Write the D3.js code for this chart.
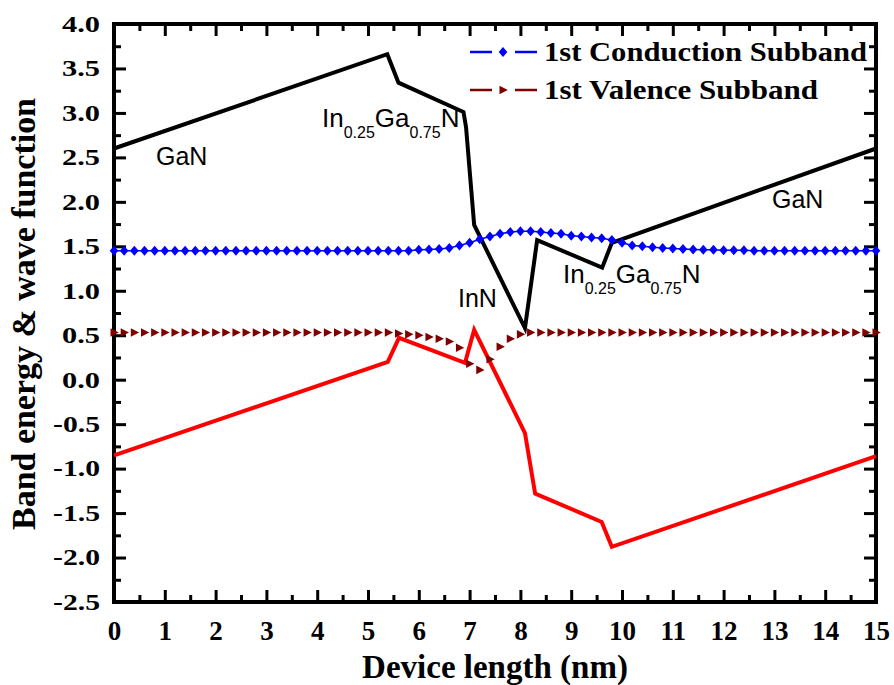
<!DOCTYPE html>
<html>
<head>
<meta charset="utf-8">
<script src="https://cdn.jsdelivr.net/npm/d3@7"></script>
<style>
  body { margin: 0; background: #fff; }
  svg { display: block; }
</style>
</head>
<body>
<div id="chart"></div>
<script>
// conduction band edge (black) and valence band edge (red)
var cbX = [0, 5.38, 5.6, 6.88, 6.93, 7.09, 8.09, 8.33, 9.61, 9.8, 15];
var cbY = [2.6, 3.66, 3.34, 3.01, 2.84, 1.74, 0.58, 1.57, 1.26, 1.54, 2.6];
var vbX = [0, 5.39, 5.61, 6.91, 7.09, 8.09, 8.29, 9.6, 9.8, 15];
var vbY = [-0.85, 0.2, 0.47, 0.19, 0.56, -0.6, -1.28, -1.6, -1.88, -0.86];

// subband wave functions, sampled every 0.2 nm from 0 to 15
var subX = d3.range(0, 76).map(function(i){ return i * 0.2; });
var condSub = [
  1.45, 1.45, 1.45, 1.45, 1.45, 1.45, 1.45, 1.45, 1.45, 1.45,
  1.45, 1.45, 1.45, 1.45, 1.45, 1.45, 1.45, 1.45, 1.45, 1.45,
  1.45, 1.45, 1.45, 1.45, 1.45, 1.45, 1.45, 1.45, 1.45, 1.45,
  1.46, 1.465, 1.47, 1.48, 1.51, 1.54, 1.58, 1.61, 1.64, 1.66,
  1.67, 1.67, 1.66, 1.65, 1.64, 1.62, 1.61, 1.60, 1.59, 1.57,
  1.54, 1.51, 1.50, 1.49, 1.48, 1.475, 1.47, 1.465, 1.46, 1.46,
  1.455, 1.455, 1.455, 1.45, 1.45, 1.45, 1.45, 1.45, 1.45, 1.45,
  1.45, 1.45, 1.45, 1.45, 1.45, 1.45
];
var valSub = [
  0.53, 0.53, 0.53, 0.53, 0.53, 0.53, 0.53, 0.53, 0.53, 0.53,
  0.53, 0.53, 0.53, 0.53, 0.53, 0.53, 0.53, 0.53, 0.53, 0.53,
  0.53, 0.53, 0.53, 0.53, 0.53, 0.53, 0.53, 0.53, 0.52, 0.51,
  0.50, 0.48, 0.46, 0.43, 0.36, 0.18, 0.11, 0.23, 0.37, 0.46,
  0.51, 0.53, 0.53, 0.53, 0.53, 0.53, 0.53, 0.53, 0.53, 0.53,
  0.53, 0.53, 0.53, 0.53, 0.53, 0.53, 0.53, 0.53, 0.53, 0.53,
  0.53, 0.53, 0.53, 0.53, 0.53, 0.53, 0.53, 0.53, 0.53, 0.53,
  0.53, 0.53, 0.53, 0.53, 0.53, 0.53
];

var xTicks = d3.range(0, 16);
var xMinor = d3.range(0.5, 15, 1);
var yTicks = [-2.5, -2, -1.5, -1, -0.5, 0, 0.5, 1, 1.5, 2, 2.5, 3, 3.5, 4];
var yMinor = [-2.25, -1.75, -1.25, -0.75, -0.25, 0.25, 0.75, 1.25, 1.75, 2.25, 2.75, 3.25, 3.75];
var legendNames = ["1st Conduction Subband", "1st Valence Subband"];

var W = 894, H = 685;
// plot box (note: "top" is a reserved window property, so use pL/pR/pT/pB)
var pL = 114, pR = 876, pT = 24, pB = 602;

var serif = "'Liberation Serif', 'Times New Roman', serif";
var sans = "'Liberation Sans', Arial, sans-serif";

var svg = d3.select('#chart').append('svg')
    .attr('width', W).attr('height', H);
svg.append('rect').attr('width', W).attr('height', H).attr('fill', '#fff');

var x = d3.scaleLinear().domain([0, 15]).range([pL, pR]);
var y = d3.scaleLinear().domain([-2.5, 4]).range([pB, pT]);

// axes with inward ticks on all four sides
function styleAxis(g, width){
    g.select('.domain').remove();
    g.selectAll('.tick line').attr('stroke', '#000').attr('stroke-width', width);
}

var gx = svg.append('g').attr('transform', 'translate(0,' + pB + ')')
    .call(d3.axisBottom(x).tickValues(xTicks).tickSize(-12).tickPadding(19)
        .tickFormat(function(d){ return d; }));
styleAxis(gx, 3);
gx.selectAll('text').attr('font-family', serif).attr('font-weight', 'bold')
    .attr('font-size', 27).attr('fill', '#000');

var gxm = svg.append('g').attr('transform', 'translate(0,' + pB + ')')
    .call(d3.axisBottom(x).tickValues(xMinor).tickSize(-7).tickFormat(''));
styleAxis(gxm, 3);

var gxt = svg.append('g').attr('transform', 'translate(0,' + pT + ')')
    .call(d3.axisTop(x).tickValues(xTicks).tickSize(-12).tickFormat(''));
styleAxis(gxt, 3);
var gxtm = svg.append('g').attr('transform', 'translate(0,' + pT + ')')
    .call(d3.axisTop(x).tickValues(xMinor).tickSize(-7).tickFormat(''));
styleAxis(gxtm, 3);

var gy = svg.append('g').attr('transform', 'translate(' + pL + ',0)')
    .call(d3.axisLeft(y).tickValues(yTicks).tickSize(-12).tickPadding(14)
        .tickFormat(function(d){ return d.toFixed(1); }));
styleAxis(gy, 3);
gy.selectAll('text').attr('font-family', serif).attr('font-weight', 'bold')
    .attr('font-size', 23).attr('fill', '#000')
    .attr('lengthAdjust', 'spacingAndGlyphs')
    .attr('textLength', function(d){ return d < 0 ? 47 : 38; });

var gym = svg.append('g').attr('transform', 'translate(' + pL + ',0)')
    .call(d3.axisLeft(y).tickValues(yMinor).tickSize(-7).tickFormat(''));
styleAxis(gym, 3);

var gyr = svg.append('g').attr('transform', 'translate(' + pR + ',0)')
    .call(d3.axisRight(y).tickValues(yTicks).tickSize(-12).tickFormat(''));
styleAxis(gyr, 3);
var gyrm = svg.append('g').attr('transform', 'translate(' + pR + ',0)')
    .call(d3.axisRight(y).tickValues(yMinor).tickSize(-7).tickFormat(''));
styleAxis(gyrm, 3);

// frame
svg.append('rect')
    .attr('x', pL).attr('y', pT)
    .attr('width', pR - pL).attr('height', pB - pT)
    .attr('fill', 'none').attr('stroke', '#000').attr('stroke-width', 4);

// band edges
var line = d3.line()
    .x(function(d){ return x(d[0]); })
    .y(function(d){ return y(d[1]); });

svg.append('path')
    .datum(cbX.map(function(v, i){ return [v, cbY[i]]; }))
    .attr('d', line)
    .attr('fill', 'none').attr('stroke', '#000').attr('stroke-width', 4)
    .attr('stroke-linejoin', 'miter');

svg.append('path')
    .datum(vbX.map(function(v, i){ return [v, vbY[i]]; }))
    .attr('d', line)
    .attr('fill', 'none').attr('stroke', '#ff0000').attr('stroke-width', 4)
    .attr('stroke-linejoin', 'miter');

// subbands
var diamond = 'M0,-5L4.3,0L0,5L-4.3,0Z';
var triangle = 'M-3.5,-4.3L4.8,0L-3.5,4.3Z';

var condPts = subX.map(function(v, i){ return [v, condSub[i]]; });
var valPts = subX.map(function(v, i){ return [v, valSub[i]]; });

svg.append('path').datum(condPts).attr('d', line)
    .attr('fill', 'none').attr('stroke', '#0000ff').attr('stroke-width', 1.5);
svg.append('g').selectAll('path')
    .data(condPts).enter()
    .append('path')
    .attr('d', diamond)
    .attr('transform', function(d){ return 'translate(' + x(d[0]) + ',' + y(d[1]) + ')'; })
    .attr('fill', '#0000ff');

svg.append('g').selectAll('path')
    .data(valPts).enter()
    .append('path')
    .attr('d', triangle)
    .attr('transform', function(d){ return 'translate(' + x(d[0]) + ',' + y(d[1]) + ')'; })
    .attr('fill', '#800000');

// legend
var legColors = ['#0000ff', '#800000'];
var legShapes = [diamond, triangle];
var legY = [52, 90];
var legLen = [323, 274];
for (var i = 0; i < legendNames.length; i++){
    var lg = svg.append('g');
    lg.append('line').attr('x1', 470).attr('x2', 492).attr('y1', legY[i]).attr('y2', legY[i])
        .attr('stroke', legColors[i]).attr('stroke-width', 2.5);
    lg.append('line').attr('x1', 515).attr('x2', 537).attr('y1', legY[i]).attr('y2', legY[i])
        .attr('stroke', legColors[i]).attr('stroke-width', 2.5);
    lg.append('path').attr('d', legShapes[i])
        .attr('transform', 'translate(503,' + legY[i] + ')')
        .attr('fill', legColors[i]);
    lg.append('text').text(legendNames[i])
        .attr('x', 544).attr('y', legY[i] + 9)
        .attr('font-family', serif).attr('font-weight', 'bold').attr('font-size', 27)
        .attr('lengthAdjust', 'spacingAndGlyphs').attr('textLength', legLen[i]);
}

// region labels
function plainLabel(txt, px, py){
    svg.append('text').text(txt).attr('x', px).attr('y', py)
        .attr('font-family', sans).attr('font-size', 25).attr('fill', '#000');
}
plainLabel('GaN', 156, 165);
plainLabel('GaN', 772, 208);
plainLabel('InN', 458, 307);

function alloyLabel(px, py){
    var t = svg.append('text').attr('x', px).attr('y', py)
        .attr('font-family', sans).attr('font-size', 26).attr('fill', '#000');
    t.append('tspan').text('In');
    t.append('tspan').text('0.25').attr('font-size', 16).attr('dy', 11);
    t.append('tspan').text('Ga').attr('dy', -11);
    t.append('tspan').text('0.75').attr('font-size', 16).attr('dy', 11);
    t.append('tspan').text('N').attr('dy', -11);
}
alloyLabel(322, 127);
alloyLabel(563, 283);

// axis titles
svg.append('text').text('Device length (nm)')
    .attr('x', (pL + pR) / 2).attr('y', 678)
    .attr('text-anchor', 'middle')
    .attr('font-family', serif).attr('font-weight', 'bold').attr('font-size', 33);

svg.append('text').text('Band energy & wave function')
    .attr('transform', 'translate(35,314) rotate(-90)')
    .attr('text-anchor', 'middle')
    .attr('font-family', serif).attr('font-weight', 'bold').attr('font-size', 33)
    .attr('lengthAdjust', 'spacingAndGlyphs').attr('textLength', 432);
</script>
</body>
</html>
